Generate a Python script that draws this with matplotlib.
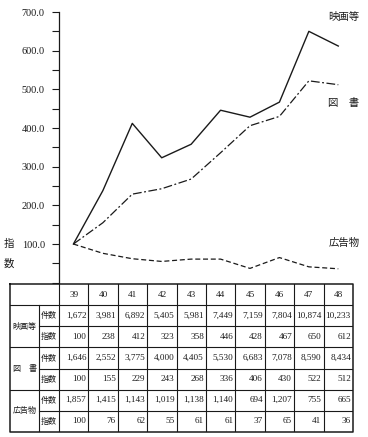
import numpy as np
import matplotlib
matplotlib.use("Agg")
import matplotlib.pyplot as plt
from matplotlib.ticker import MultipleLocator

# ── data ─────────────────────────────────────────────────────────────────────
years = [39, 40, 41, 42, 43, 44, 45, 46, 47, 48]

eiga_count = ["1,672", "3,981", "6,892", "5,405", "5,981", "7,449", "7,159", "7,804", "10,874", "10,233"]
eiga_index = [100, 238, 412, 323, 358, 446, 428, 467, 650, 612]

tosho_count = ["1,646", "2,552", "3,775", "4,000", "4,405", "5,530", "6,683", "7,078", "8,590", "8,434"]
tosho_index = [100, 155, 229, 243, 268, 336, 406, 430, 522, 512]

koukoku_count = ["1,857", "1,415", "1,143", "1,019", "1,138", "1,140", "694", "1,207", "755", "665"]
koukoku_index = [100, 76, 62, 55, 61, 61, 37, 65, 41, 36]

series_names = ["映画等", "図　書", "広告物"]
row_names = ["件数", "指数"]
yticks = [100, 200, 300, 400, 500, 600, 700]

# ── layout helpers (pixel coords of the 368x437 canvas) ──────────────────────
W, H = 368, 437
JP = ["Noto Sans CJK JP"]
NUM = ["Liberation Serif", "Noto Sans CJK JP"]
INK = "#1a1a1a"


def rect(x0, y0, x1, y1):
    return [x0 / W, 1 - y1 / H, (x1 - x0) / W, (y1 - y0) / H]


fig = plt.figure(figsize=(W / 100, H / 100), dpi=100)

# ── line chart ───────────────────────────────────────────────────────────────
ax = fig.add_axes(rect(58.7, 12, 353, 282.7))
ax.set_xlim(38.5, 48.5)
ax.set_ylim(0, 700)
for s in ("top", "right", "bottom"):
    ax.spines[s].set_visible(False)
ax.spines["left"].set_linewidth(0.9)
ax.spines["left"].set_color(INK)
ax.set_xticks([])
ax.set_yticks(yticks)
ax.set_yticklabels([f"{v:.1f}" for v in yticks], family=NUM, fontsize=7.4, color=INK)
ax.yaxis.set_minor_locator(MultipleLocator(50))
ax.tick_params(axis="y", which="both", direction="out", length=5, width=0.8,
               color=INK, pad=5)
ax.set_facecolor("none")

ax.plot(years, eiga_index, color=INK, lw=1.0, ls="-")
ax.plot(years, tosho_index, color=INK, lw=0.9, dashes=(7, 2, 1.5, 2))
ax.plot(years, koukoku_index, color=INK, lw=0.9, dashes=(4, 2.2))

# series labels
fig.text(344 / W, 1 - 17 / H, "映画等", family=JP, fontsize=7.5, ha="center", va="center", color=INK)
fig.text(344 / W, 1 - 103 / H, "図　書", family=JP, fontsize=7.5, ha="center", va="center", color=INK)
fig.text(344 / W, 1 - 243 / H, "広告物", family=JP, fontsize=7.5, ha="center", va="center", color=INK)
fig.text(9 / W, 1 - 244 / H, "指", family=JP, fontsize=7.5, ha="center", va="center", color=INK)
fig.text(9 / W, 1 - 264 / H, "数", family=JP, fontsize=7.5, ha="center", va="center", color=INK)

# ── table ────────────────────────────────────────────────────────────────────
tax = fig.add_axes(rect(10, 284, 353, 432))
x_left, x_mid, x_data, x_right = 36.83, 37.82, 38.5, 48.5
tax.set_xlim(x_left, x_right)
tax.set_ylim(7, 0)
tax.axis("off")

lw = 0.8
# outer border
tax.plot([x_left, x_right, x_right, x_left, x_left], [0, 0, 7, 7, 0],
         color=INK, lw=1.1, clip_on=False)
# horizontal lines
for r in (1, 3, 5):
    tax.plot([x_left, x_right], [r, r], color=INK, lw=lw)
for r in (2, 4, 6):
    tax.plot([x_mid, x_right], [r, r], color=INK, lw=lw)
# vertical lines
tax.plot([x_mid, x_mid], [1, 7], color=INK, lw=lw)
for i in range(len(years)):
    tax.plot([x_data + i, x_data + i], [0, 7], color=INK, lw=lw)

# header
for i, y in enumerate(years):
    tax.text(x_data + i + 0.5, 0.5, str(y), family=NUM, fontsize=6.6,
             ha="center", va="center", color=INK)

groups = [
    (eiga_count, eiga_index),
    (tosho_count, tosho_index),
    (koukoku_count, koukoku_index),
]
for g, (counts, idx) in enumerate(groups):
    top = 1 + 2 * g
    tax.text((x_left + x_mid) / 2, top + 1, series_names[g], family=JP,
             fontsize=5.8, ha="center", va="center", color=INK)
    for k, rn in enumerate(row_names):
        tax.text((x_mid + x_data) / 2, top + k + 0.5, rn, family=JP,
                 fontsize=5.8, ha="center", va="center", color=INK)
    for i in range(len(years)):
        tax.text(x_data + i + 0.93, top + 0.5, counts[i], family=NUM,
                 fontsize=6.6, ha="right", va="center", color=INK)
        tax.text(x_data + i + 0.93, top + 1.5, str(idx[i]), family=NUM,
                 fontsize=6.6, ha="right", va="center", color=INK)

fig.savefig("out.png", dpi=100)
